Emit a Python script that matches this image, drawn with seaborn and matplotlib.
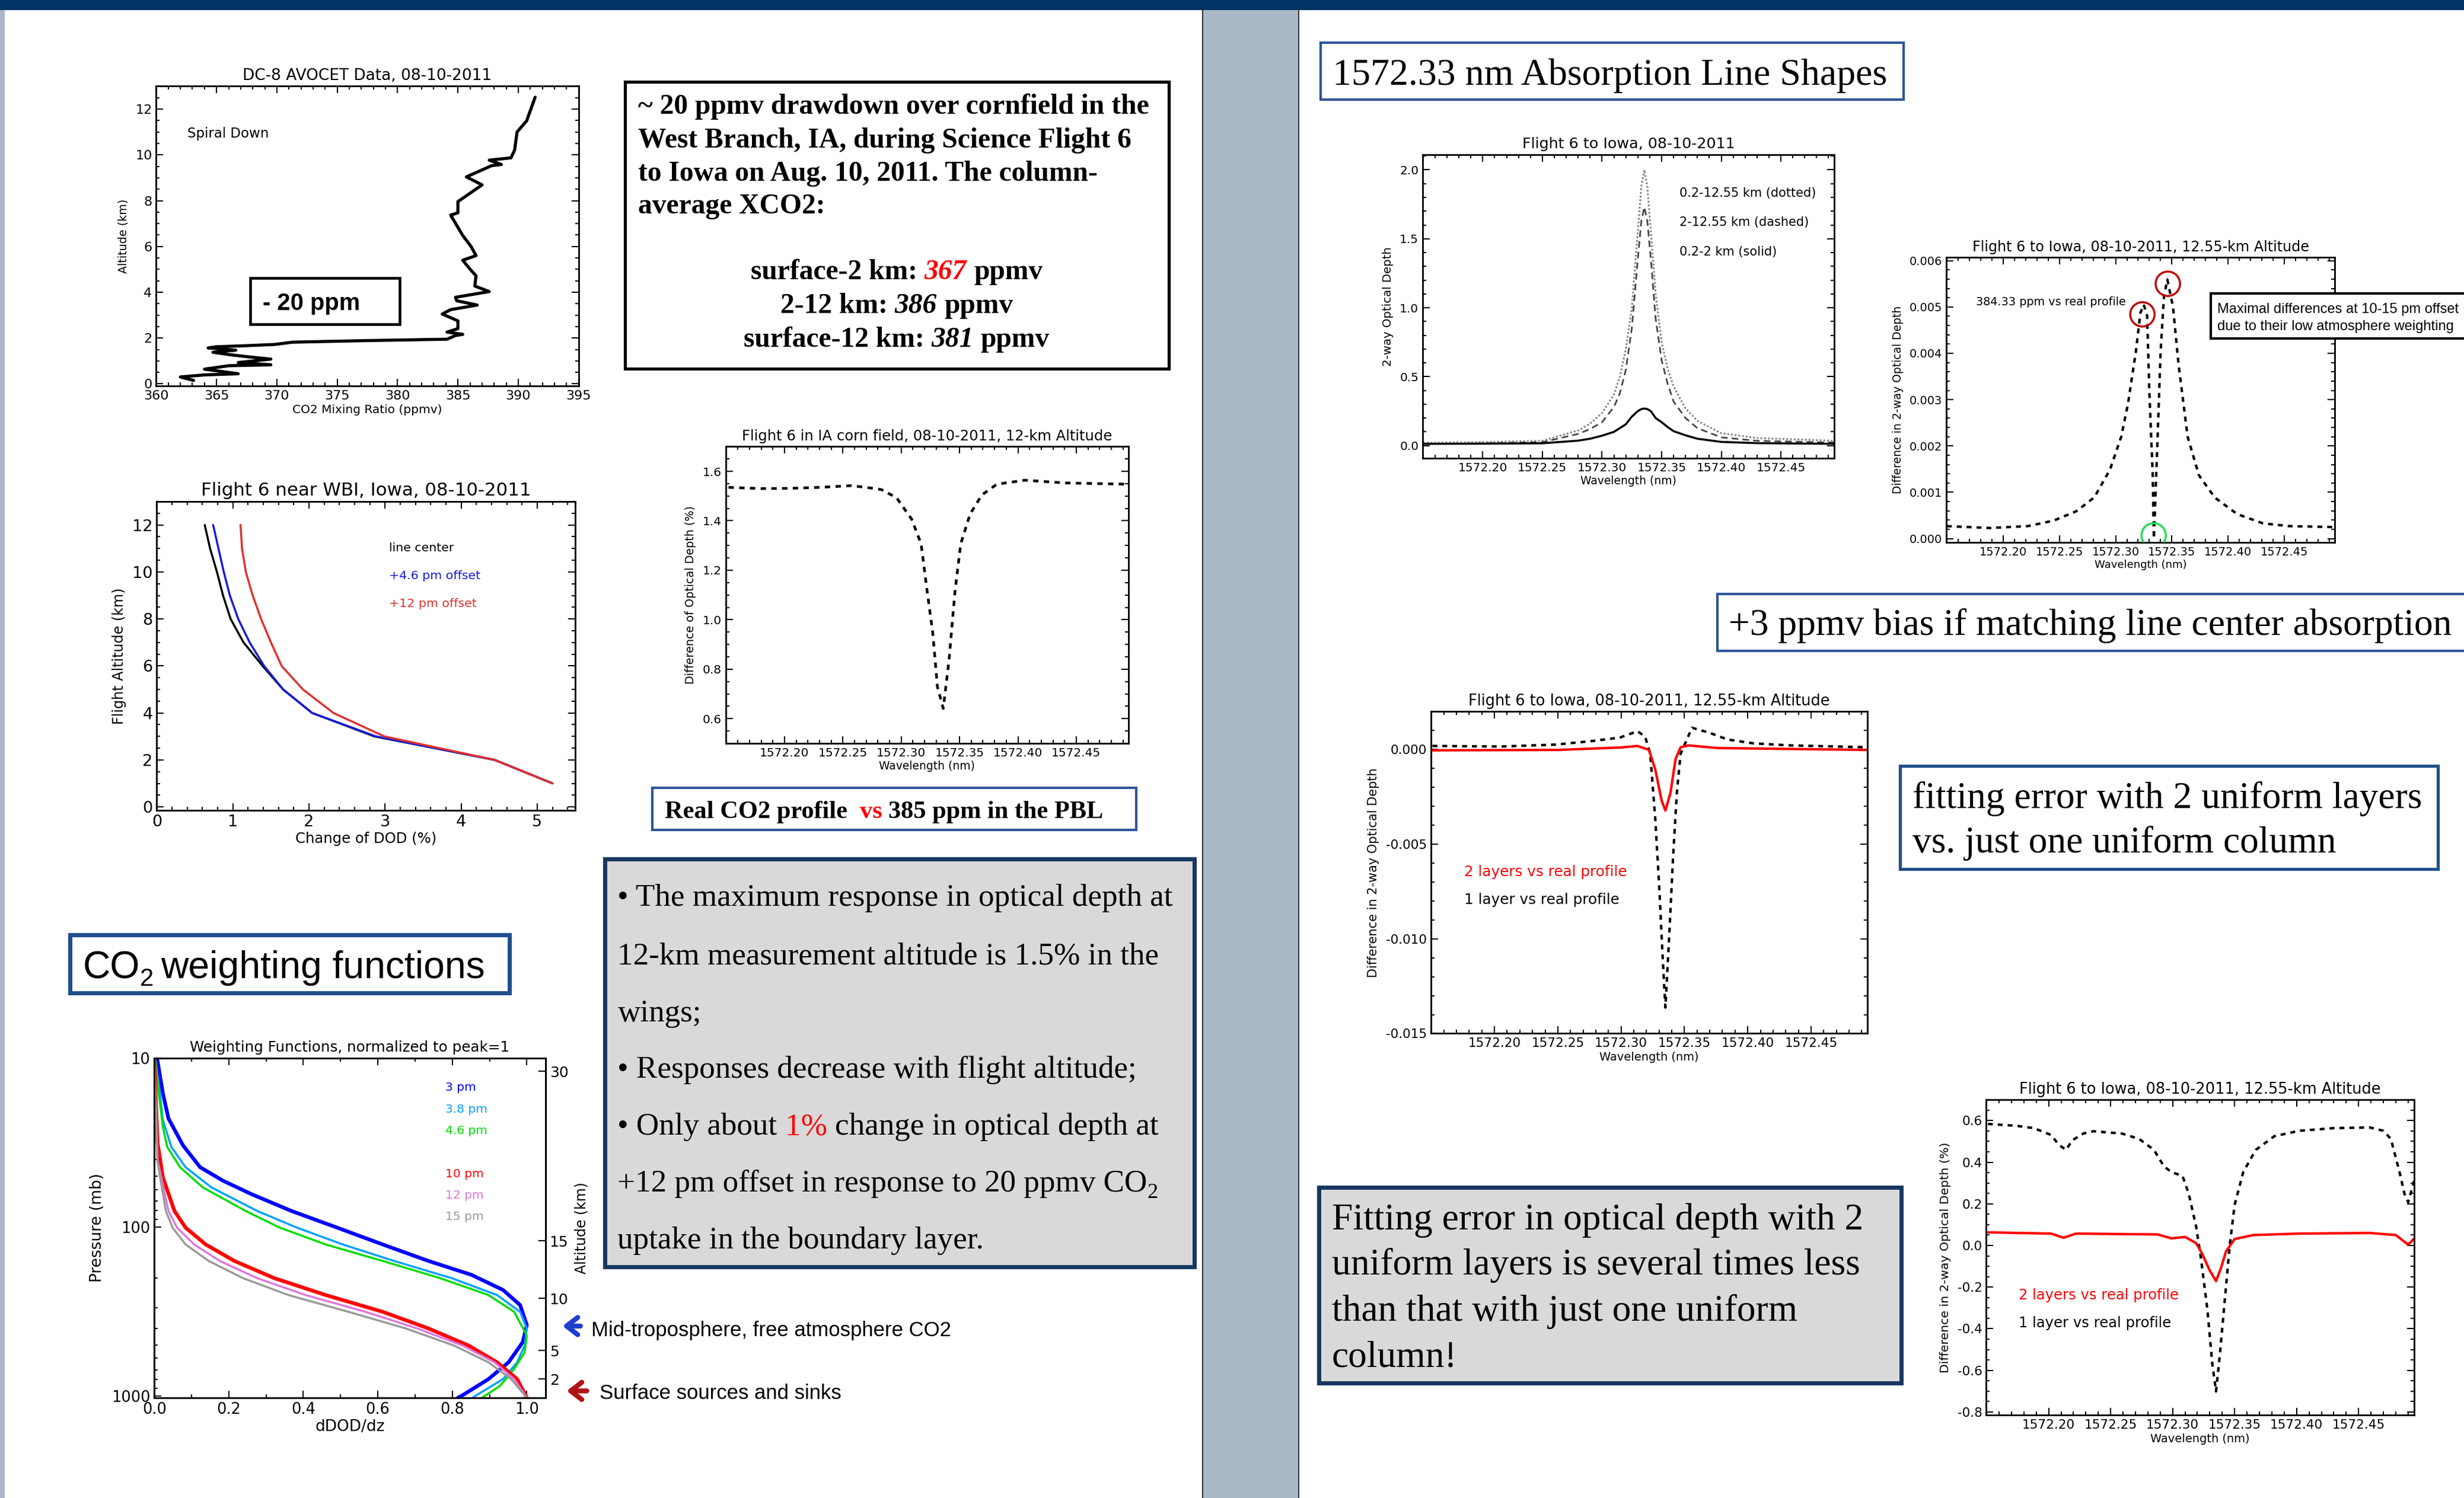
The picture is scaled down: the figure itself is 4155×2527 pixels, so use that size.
import matplotlib
matplotlib.use("Agg")
import matplotlib.pyplot as plt
import seaborn as sns
from matplotlib.patches import Rectangle, FancyArrowPatch
from matplotlib.lines import Line2D
from matplotlib.ticker import (MultipleLocator, FixedLocator, FixedFormatter,
                               FormatStrFormatter, NullFormatter, NullLocator, LogLocator)

# DC-8 AVOCET spiral: CO2 (ppmv) against altitude (km)
avocet_co2 = [363.1, 362.0, 364.0, 366.8, 364.7, 364.0, 366.0, 369.5, 366.8, 369.5,
              367.6, 366.0, 364.7, 366.6, 364.3, 365.0, 367.6, 369.8, 371.3, 377.5,
              384.1, 384.8, 385.4, 384.1, 385.0, 385.0, 383.7, 384.4, 386.6, 384.9,
              384.8, 387.6, 386.4, 386.5, 386.0, 385.4, 386.5, 386.1, 385.4, 384.4,
              385.0, 385.0, 385.8, 387.0, 385.7, 387.8, 388.6, 387.6, 389.4, 389.7,
              389.9, 390.7, 391.1, 391.4]
avocet_alt = [0.15, 0.30, 0.39, 0.44, 0.59, 0.64, 0.79, 0.83, 0.93, 1.08,
              1.18, 1.28, 1.38, 1.47, 1.57, 1.62, 1.67, 1.72, 1.82, 1.89,
              1.95, 2.11, 2.16, 2.26, 2.41, 2.75, 3.05, 3.24, 3.44, 3.63,
              3.78, 4.03, 4.27, 4.72, 5.01, 5.40, 5.60, 5.99, 6.48, 7.37,
              7.47, 7.96, 8.25, 8.69, 9.04, 9.53, 9.58, 9.77, 9.87, 10.22,
              11.0, 11.49, 12.08, 12.52]

# change of DOD (%) against flight altitude near WBI
wbi_alt = [12, 11, 10, 9, 8, 7, 6, 5, 4, 3, 2, 1]
wbi_center = [0.63, 0.70, 0.79, 0.87, 0.97, 1.14, 1.39, 1.66, 2.04, 2.86, 4.44, 5.2]
wbi_off46 = [0.74, 0.81, 0.88, 0.96, 1.07, 1.22, 1.41, 1.66, 2.04, 2.88, 4.44, 5.2]
wbi_off12 = [1.10, 1.12, 1.17, 1.26, 1.37, 1.50, 1.64, 1.92, 2.32, 2.99, 4.44, 5.2]

# difference of optical depth (%) over the corn field, 12 km
corn_wl = [1572.152, 1572.18, 1572.204, 1572.23, 1572.257, 1572.27, 1572.283, 1572.296,
           1572.309, 1572.317, 1572.322, 1572.327, 1572.331, 1572.336, 1572.341, 1572.346,
           1572.351, 1572.359, 1572.369, 1572.382, 1572.406, 1572.44, 1572.492]
corn_dod = [1.535, 1.530, 1.531, 1.535, 1.542, 1.535, 1.526, 1.493, 1.406, 1.307, 1.122,
            0.947, 0.729, 0.641, 0.838, 1.111, 1.307, 1.427, 1.504, 1.548, 1.564, 1.553, 1.548]

# weighting functions (normalized) against pressure (mb)
wf_p_3 = [10.2, 16.2, 22.8, 32.9, 44.3, 53.2, 64.0, 80.4, 101, 127, 159, 192, 236, 290, 381,
          481, 633, 796, 1000, 1025]
wf_3 = [0.008, 0.023, 0.038, 0.077, 0.123, 0.184, 0.261, 0.368, 0.491, 0.613, 0.736, 0.851,
        0.936, 0.982, 1.0, 0.989, 0.951, 0.897, 0.825, 0.815]
wf_p_38 = [10.2, 16.2, 23.3, 33.7, 44.3, 58.3, 80.4, 101, 127, 159, 201, 253, 318, 399, 504,
           633, 796, 1000, 1025]
wf_38 = [0.003, 0.015, 0.023, 0.046, 0.084, 0.153, 0.276, 0.383, 0.506, 0.644, 0.798, 0.92,
         0.982, 1.0, 0.994, 0.974, 0.936, 0.862, 0.855]
wf_p_46 = [10.2, 16.2, 25.6, 33.7, 44.3, 58.3, 80.4, 101, 127, 159, 201, 253, 318, 439, 553,
           694, 873, 1025]
wf_46 = [0.003, 0.012, 0.023, 0.035, 0.069, 0.13, 0.245, 0.337, 0.46, 0.613, 0.767, 0.897,
         0.966, 1.0, 0.994, 0.966, 0.928, 0.88]
wf_p_10 = [10.2, 20.3, 32.1, 50.9, 80.4, 101, 127, 159, 201, 253, 318, 399, 504, 633, 796, 1025]
wf_10 = [0.0, 0.005, 0.009, 0.023, 0.054, 0.084, 0.138, 0.215, 0.322, 0.46, 0.613, 0.736,
         0.844, 0.92, 0.974, 1.0]
wf_p_12 = [10.2, 40.4, 80.4, 101, 127, 159, 201, 253, 318, 399, 504, 633, 796, 1025]
wf_12 = [0.0, 0.009, 0.038, 0.061, 0.107, 0.176, 0.276, 0.406, 0.567, 0.706, 0.828, 0.913,
         0.966, 1.0]
wf_p_15 = [10.2, 40.4, 80.4, 101, 127, 159, 201, 253, 318, 399, 504, 633, 796, 1025]
wf_15 = [0.0, 0.008, 0.031, 0.049, 0.084, 0.146, 0.238, 0.36, 0.521, 0.675, 0.805, 0.897,
         0.958, 1.0]
wf_labels = ['3 pm', '3.8 pm', '4.6 pm', '10 pm', '12 pm', '15 pm']
wf_label_p = [15.0, 20.1, 26.9, 48.6, 65.2, 87.3]
alt_tick_p = [795, 540, 265, 121, 12]
alt_tick_lab = ['2', '5', '10', '15', '30']

# 2-way optical depth line shapes
shape_wl = [1572.15, 1572.20, 1572.25, 1572.28, 1572.29, 1572.30, 1572.31, 1572.315, 1572.32,
            1572.325, 1572.33, 1572.333, 1572.3355, 1572.338, 1572.341, 1572.345, 1572.35,
            1572.355, 1572.36, 1572.37, 1572.38, 1572.40, 1572.43, 1572.495]
shape_full = [0.02, 0.025, 0.035, 0.11, 0.16, 0.236, 0.37, 0.5, 0.7, 1.0, 1.55, 1.88, 2.0, 1.88,
              1.55, 1.1, 0.75, 0.56, 0.43, 0.27, 0.18, 0.09, 0.055, 0.035]
shape_upper = [0.012, 0.017, 0.025, 0.085, 0.12, 0.17, 0.28, 0.38, 0.55, 0.85, 1.35, 1.63, 1.73,
               1.63, 1.35, 0.92, 0.62, 0.45, 0.32, 0.2, 0.127, 0.06, 0.035, 0.022]
shape_pbl = [0.013, 0.014, 0.017, 0.036, 0.05, 0.072, 0.1, 0.127, 0.155, 0.21, 0.25, 0.265, 0.269,
             0.265, 0.25, 0.2, 0.17, 0.135, 0.105, 0.075, 0.05, 0.027, 0.018, 0.013]

# 384.33 ppm column vs real profile
bias_wl = [1572.15, 1572.188, 1572.222, 1572.245, 1572.265, 1572.281, 1572.295, 1572.305,
           1572.311, 1572.318, 1572.322, 1572.325, 1572.328, 1572.330, 1572.333, 1572.334,
           1572.337, 1572.340, 1572.343, 1572.346, 1572.351, 1572.356, 1572.364, 1572.374,
           1572.388, 1572.408, 1572.431, 1572.454, 1572.494]
bias_diff = [0.00027, 0.00023, 0.00027, 0.00039, 0.00059, 0.00089, 0.00149, 0.0022, 0.00291,
             0.00404, 0.00487, 0.00505, 0.00481, 0.00315, 0.00137, 0.0, 0.00196, 0.00404,
             0.00523, 0.00559, 0.005, 0.00374, 0.0022, 0.00137, 0.00089, 0.00053, 0.00033,
             0.00027, 0.00025]
circle_wl = [1572.3238, 1572.3464, 1572.3338]
circle_val = [0.00484, 0.0055, 0.00007]

# fitting errors, 2-way optical depth
fit1_wl = [1572.151, 1572.205, 1572.248, 1572.276, 1572.299, 1572.313, 1572.319, 1572.323,
           1572.327, 1572.330, 1572.333, 1572.335, 1572.338, 1572.341, 1572.344, 1572.347,
           1572.356, 1572.370, 1572.384, 1572.404, 1572.433, 1572.495]
fit1_err = [0.00018, 0.00015, 0.00025, 0.00043, 0.00062, 0.00096, 0.00066, -0.00023, -0.00367,
            -0.0071, -0.0112, -0.01363, -0.00985, -0.00573, -0.00229, -0.00023, 0.00114,
            0.00087, 0.00052, 0.00032, 0.00021, 0.00011]
fit2_wl = [1572.151, 1572.25, 1572.30, 1572.313, 1572.322, 1572.327, 1572.332, 1572.335,
           1572.339, 1572.343, 1572.347, 1572.353, 1572.376, 1572.495]
fit2_err = [-0.00005, -0.00003, 0.0001, 0.00018, -0.00003, -0.00106, -0.0027, -0.00323,
            -0.00229, -0.00051, 0.00011, 0.00021, 0.00007, -0.00003]

# fitting errors in percent
pct1_wl = [1572.151, 1572.174, 1572.188, 1572.202, 1572.208, 1572.214, 1572.219, 1572.228,
           1572.236, 1572.259, 1572.273, 1572.285, 1572.293, 1572.299, 1572.308, 1572.313,
           1572.319, 1572.323, 1572.328, 1572.332, 1572.335, 1572.338, 1572.342, 1572.346,
           1572.350, 1572.357, 1572.367, 1572.382, 1572.402, 1572.430, 1572.459, 1572.470,
           1572.476, 1572.483, 1572.487, 1572.490, 1572.495]
pct1_err = [0.584, 0.575, 0.564, 0.531, 0.485, 0.459, 0.505, 0.538, 0.549, 0.538, 0.512, 0.459,
            0.38, 0.353, 0.334, 0.248, 0.09, -0.068, -0.306, -0.569, -0.701, -0.53, -0.266,
            -0.002, 0.195, 0.353, 0.459, 0.525, 0.551, 0.564, 0.567, 0.551, 0.512, 0.353,
            0.248, 0.208, 0.314]
pct2_wl = [1572.151, 1572.202, 1572.212, 1572.222, 1572.288, 1572.299, 1572.310, 1572.319,
           1572.324, 1572.330, 1572.335, 1572.339, 1572.343, 1572.350, 1572.365, 1572.402,
           1572.459, 1572.480, 1572.490, 1572.495]
pct2_err = [0.063, 0.057, 0.037, 0.057, 0.053, 0.034, 0.041, 0.011, -0.042, -0.121, -0.171,
            -0.108, -0.029, 0.031, 0.05, 0.057, 0.06, 0.05, 0.004, 0.034]

wl_ticks = [1572.20, 1572.25, 1572.30, 1572.35, 1572.40, 1572.45]
WL_LIM = (1572.1497, 1572.4947)

# ---------------- style ----------------
sns.set_style("ticks", rc={"axes.edgecolor": "black", "xtick.color": "black",
                           "ytick.color": "black", "text.color": "black",
                           "axes.labelcolor": "black"})
plt.rcParams["font.family"] = ["DejaVu Sans"]
plt.rcParams["axes.linewidth"] = 0.8

W, H = 1568, 954   # layout units: pixels of the poster as shown
fig = plt.figure(figsize=(16.62, 10.108), dpi=250)
renderer = fig.canvas.get_renderer()

SERIF = "Liberation Serif"
NARROW = ["Liberation Sans Narrow", "Liberation Sans"]


def frect(l, t, r, b, fc="white", ec="none", lw=1.0, z=1):
    fig.add_artist(Rectangle((l / W, 1 - b / H), (r - l) / W, (b - t) / H,
                             transform=fig.transFigure, fc=fc, ec=ec, lw=lw, zorder=z))


def new_ax(l, t, r, b):
    return fig.add_axes([l / W, 1 - b / H, (r - l) / W, (b - t) / H])


def width(s, **kw):
    t = fig.text(0, 0, s, **kw)
    w = t.get_window_extent(renderer).width
    t.remove()
    return w / fig.bbox.width


def rich(x, y, parts, ha="left", **kw):
    ws = []
    for s, st in parts:
        k = {**kw, **{a: v for a, v in st.items() if a != "dy"}}
        ws.append(width(s + "|", **k) - width("|", **k))
    x0 = x / W - (sum(ws) / 2 if ha == "center" else 0)
    for (s, st), w in zip(parts, ws):
        k = {**kw, **{a: v for a, v in st.items() if a != "dy"}}
        fig.text(x0, 1 - (y + st.get("dy", 0)) / H, s, va="baseline", zorder=6, **k)
        x0 += w


def ftext(x, y, s, **kw):
    fig.text(x / W, 1 - y / H, s, va="baseline", zorder=6, **kw)


def loc(v):
    if isinstance(v, (list, tuple)):
        return FixedLocator(v)
    return MultipleLocator(v)


def idl(ax, xlim, ylim, xmaj, xmin, ymaj, ymin, fs):
    ax.set_xlim(*xlim)
    ax.set_ylim(*ylim)
    ax.xaxis.set_major_locator(loc(xmaj))
    ax.xaxis.set_minor_locator(loc(xmin))
    if ymaj is not None:
        ax.yaxis.set_major_locator(loc(ymaj))
        ax.yaxis.set_minor_locator(loc(ymin))
    ax.tick_params(which="both", direction="in", top=True, right=True,
                   labelsize=fs, width=0.6, pad=2)
    ax.tick_params(which="major", length=3.5)
    ax.tick_params(which="minor", length=1.8)


def wl_axis(ax, ylim, ymaj, ymin, fs, yfmt):
    idl(ax, WL_LIM, ylim, wl_ticks, 0.01, ymaj, ymin, fs)
    ax.xaxis.set_major_formatter(FormatStrFormatter("%.2f"))
    ax.yaxis.set_major_formatter(FormatStrFormatter(yfmt))


# ---------------- background ----------------
frect(0, 0, W, 6.3, fc="#003366", z=1)
frect(0, 6.3, 3, H, fc="#aab8c8", z=1)
frect(765.5, 6.3, 826.5, H, fc="#aab8c8", z=1)
for xl in (765.5, 826.5):
    fig.add_artist(Line2D([xl / W, xl / W], [0, 1 - 6.3 / H], transform=fig.transFigure,
                          color="#333333", lw=0.6, zorder=2))

# ---------------- DC-8 AVOCET profile ----------------
ax = new_ax(99.4, 54.9, 368.2, 245.9)
sns.lineplot(x=avocet_co2, y=avocet_alt, sort=False, estimator=None, color="black",
             linewidth=1.5, ax=ax)
idl(ax, (360, 395), (-0.1, 13), 5, 1, 2, 0.5, 6.4)
ax.set_title("DC-8 AVOCET Data, 08-10-2011", fontsize=7.6, pad=3)
ax.set_xlabel("CO2 Mixing Ratio (ppmv)", fontsize=5.8, labelpad=1)
ax.set_ylabel("Altitude (km)", fontsize=5.5, labelpad=3)
ax.text(362.58, 10.92, "Spiral Down", fontsize=6.6, va="center")
frect(159.3, 177.1, 254.5, 206.5, fc="white", ec="black", lw=1.3, z=2)
ftext(167.2, 197.3, "- 20 ppm", family="Liberation Sans", weight="bold", fontsize=11.5)

# ---------------- change of DOD vs altitude ----------------
ax = new_ax(99.8, 319.4, 366.1, 516.1)
sns.lineplot(x=wbi_center, y=wbi_alt, sort=False, estimator=None, color="black",
             linewidth=1.0, ax=ax)
sns.lineplot(x=wbi_off46, y=wbi_alt, sort=False, estimator=None, color="#1a1adc",
             linewidth=1.0, ax=ax)
sns.lineplot(x=wbi_off12, y=wbi_alt, sort=False, estimator=None, color="#e03030",
             linewidth=1.0, ax=ax)
idl(ax, (0, 5.5), (-0.15, 13), 1, 0.2, 2, 0.5, 7.8)
ax.set_title("Flight 6 near WBI, Iowa, 08-10-2011", fontsize=8.9, pad=3)
ax.set_xlabel("Change of DOD (%)", fontsize=7.0, labelpad=1)
ax.set_ylabel("Flight Altitude (km)", fontsize=6.9, labelpad=3)
ax.text(3.05, 11.02, "line center", fontsize=5.9, va="center", color="black")
ax.text(3.05, 9.84, "+4.6 pm offset", fontsize=5.9, va="center", color="#1a1adc")
ax.text(3.05, 8.66, "+12 pm offset", fontsize=5.9, va="center", color="#e03030")

# ---------------- corn field difference ----------------
ax = new_ax(461.9, 284.4, 718.1, 473.4)
sns.lineplot(x=corn_wl, y=corn_dod, sort=False, estimator=None, color="black",
             linewidth=1.3, linestyle=(0, (2, 2)), ax=ax)
wl_axis(ax, (0.5, 1.7), 0.2, 0.05, 5.8, "%.1f")
ax.set_title("Flight 6 in IA corn field, 08-10-2011, 12-km Altitude", fontsize=7.0, pad=3)
ax.set_xlabel("Wavelength (nm)", fontsize=5.4, labelpad=1)
ax.set_ylabel("Difference of Optical Depth (%)", fontsize=5.5, labelpad=3)

# ---------------- weighting functions ----------------
ax = new_ax(98.2, 673.8, 347.1, 890.1)
wf_sets = [(wf_3, wf_p_3, "#0000ff", 1.8), (wf_38, wf_p_38, "#00a0ff", 1.0),
           (wf_46, wf_p_46, "#00dd00", 1.0), (wf_10, wf_p_10, "#ff0000", 1.8),
           (wf_12, wf_p_12, "#dd77dd", 1.0), (wf_15, wf_p_15, "#999999", 1.0)]
for xs, ps, col, lw in wf_sets:
    sns.lineplot(x=xs, y=ps, sort=False, estimator=None, color=col, linewidth=lw, ax=ax)
ax.set_yscale("log")
idl(ax, (0, 1.05), (1025, 10), 0.2, 0.1, None, None, 7.4)
ax.xaxis.set_major_formatter(FormatStrFormatter("%.1f"))
ax.yaxis.set_major_locator(FixedLocator([10, 100, 1000]))
ax.yaxis.set_major_formatter(FixedFormatter(["10", "100", "1000"]))
ax.yaxis.set_minor_locator(LogLocator(base=10, subs=range(2, 10), numticks=20))
ax.yaxis.set_minor_formatter(NullFormatter())
ax.tick_params(which="both", right=False)
ax.set_title("Weighting Functions, normalized to peak=1", fontsize=7.1, pad=3)
ax.set_xlabel("dDOD/dz", fontsize=7.6, labelpad=1)
ax.set_ylabel("Pressure (mb)", fontsize=7.6, labelpad=3)
for lab, p, (_, _, col, _) in zip(wf_labels, wf_label_p, wf_sets):
    ax.text(0.782, p, lab, fontsize=5.8, va="center", color=col)
ax2 = ax.twinx()
ax2.set_yscale("log")
ax2.set_ylim(1025, 10)
ax2.yaxis.set_major_locator(FixedLocator(alt_tick_p))
ax2.yaxis.set_major_formatter(FixedFormatter(alt_tick_lab))
ax2.yaxis.set_minor_locator(NullLocator())
ax2.tick_params(which="major", direction="in", length=3.5, width=0.6, labelsize=7.2, pad=2)
ax2.set_ylabel("Altitude (km)", fontsize=6.8, labelpad=3)

# ---------------- line shapes ----------------
ax = new_ax(905.4, 98.5, 1167.2, 291.7)
sns.lineplot(x=shape_wl, y=shape_full, sort=False, estimator=None, color="#888888",
             linewidth=0.9, linestyle=(0, (1, 1)), ax=ax)
sns.lineplot(x=shape_wl, y=shape_upper, sort=False, estimator=None, color="#444444",
             linewidth=0.8, linestyle=(0, (4, 2.5)), ax=ax)
sns.lineplot(x=shape_wl, y=shape_pbl, sort=False, estimator=None, color="black",
             linewidth=1.0, ax=ax)
wl_axis(ax, (-0.09, 2.11), 0.5, 0.1, 5.8, "%.1f")
ax.set_title("Flight 6 to Iowa, 08-10-2011", fontsize=7.3, pad=3)
ax.set_xlabel("Wavelength (nm)", fontsize=5.4, labelpad=1)
ax.set_ylabel("2-way Optical Depth", fontsize=5.7, labelpad=3)
ax.text(1572.365, 1.83, "0.2-12.55 km (dotted)", fontsize=6.0, va="center")
ax.text(1572.365, 1.618, "2-12.55 km (dashed)", fontsize=6.0, va="center")
ax.text(1572.365, 1.405, "0.2-2 km (solid)", fontsize=6.0, va="center")

# ---------------- 384.33 ppm vs real profile ----------------
ax = new_ax(1238.7, 163.9, 1485.7, 345.4)
sns.lineplot(x=bias_wl, y=bias_diff, sort=False, estimator=None, color="black",
             linewidth=1.2, linestyle=(0, (2, 2)), ax=ax)
ax.scatter(circle_wl, circle_val, s=140, facecolors="none",
           edgecolors=["#c00000", "#c00000", "#22dd55"], linewidths=1.0, zorder=5)
wl_axis(ax, (-0.00008, 0.00607), 0.001, 0.0002, 5.6, "%.3f")
ax.set_title("Flight 6 to Iowa, 08-10-2011, 12.55-km Altitude", fontsize=6.9, pad=3)
ax.set_xlabel("Wavelength (nm)", fontsize=5.2, labelpad=1)
ax.set_ylabel("Difference in 2-way Optical Depth", fontsize=5.4, labelpad=3)
ax.text(1572.176, 0.0051, "384.33 ppm vs real profile", fontsize=5.5, va="center")
frect(1407, 187, 1580, 215.4, fc="white", ec="black", lw=1.2, z=4)
ftext(1411, 199.3, "Maximal differences at 10-15 pm offset", family=NARROW, fontsize=6.8)
ftext(1411, 210.2, "due to their low atmosphere weighting", family=NARROW, fontsize=6.8)

# ---------------- fitting error, absolute ----------------
ax = new_ax(910.5, 453.1, 1188.5, 658.2)
sns.lineplot(x=fit1_wl, y=fit1_err, sort=False, estimator=None, color="black",
             linewidth=1.2, linestyle=(0, (2, 2)), ax=ax)
sns.lineplot(x=fit2_wl, y=fit2_err, sort=False, estimator=None, color="#ff0000",
             linewidth=1.2, ax=ax)
wl_axis(ax, (-0.015, 0.002), 0.005, 0.001, 6.2, "%.3f")
ax.set_title("Flight 6 to Iowa, 08-10-2011, 12.55-km Altitude", fontsize=7.4, pad=3)
ax.set_xlabel("Wavelength (nm)", fontsize=5.6, labelpad=1)
ax.set_ylabel("Difference in 2-way Optical Depth", fontsize=6.0, labelpad=3)
ax.text(1572.176, -0.00648, "2 layers vs real profile", fontsize=7.1, va="center", color="#ff0000")
ax.text(1572.176, -0.00793, "1 layer vs real profile", fontsize=7.1, va="center")

# ---------------- fitting error, percent ----------------
ax = new_ax(1264, 700.4, 1536.2, 901.2)
sns.lineplot(x=pct1_wl, y=pct1_err, sort=False, estimator=None, color="black",
             linewidth=1.2, linestyle=(0, (2, 2)), ax=ax)
sns.lineplot(x=pct2_wl, y=pct2_err, sort=False, estimator=None, color="#ff0000",
             linewidth=1.2, ax=ax)
wl_axis(ax, (-0.815, 0.70), 0.2, 0.05, 6.2, "%.1f")
ax.set_title("Flight 6 to Iowa, 08-10-2011, 12.55-km Altitude", fontsize=7.4, pad=3)
ax.set_xlabel("Wavelength (nm)", fontsize=5.6, labelpad=1)
ax.set_ylabel("Difference in 2-way Optical Depth (%)", fontsize=5.9, labelpad=3)
ax.text(1572.176, -0.24, "2 layers vs real profile", fontsize=7.0, va="center", color="#ff0000")
ax.text(1572.176, -0.372, "1 layer vs real profile", fontsize=7.0, va="center")

# ---------------- text boxes, left half ----------------
frect(397.8, 52.2, 743.8, 235.0, ec="black", lw=1.5, z=2)
bold = dict(family=SERIF, weight="bold", fontsize=13.7)
ftext(405.9, 72.5, "~ 20 ppmv drawdown over cornfield in the", **bold)
ftext(405.9, 93.9, "West Branch, IA, during Science Flight 6", **bold)
ftext(405.9, 115.1, "to Iowa on Aug. 10, 2011. The column-", **bold)
ftext(405.9, 135.9, "average XCO2:", **bold)
rich(570.6, 177.8, [("surface-2 km: ", {}), ("367 ", {"style": "italic", "color": "red"}),
                    ("ppmv", {})], ha="center", **bold)
rich(570.6, 199.2, [("2-12 km: ", {}), ("386 ", {"style": "italic"}), ("ppmv", {})],
     ha="center", **bold)
rich(570.6, 220.7, [("surface-12 km: ", {}), ("381 ", {"style": "italic"}), ("ppmv", {})],
     ha="center", **bold)

frect(415, 501.9, 723, 528.6, ec="#2f5597", lw=1.2, z=2)
rich(423, 520.8, [("Real CO2 profile  ", {}), ("vs ", {"color": "red"}),
                  ("385 ppm in the PBL", {})], family=SERIF, weight="bold", fontsize=12.2)

frect(44.4, 595.2, 324.2, 632.2, ec="#1f4e8c", lw=2.0, z=2)
rich(52.7, 623, [("CO", {}), ("2 ", {"fontsize": 12, "dy": 5}), ("weighting functions", {})],
     family="Liberation Sans", fontsize=18.5)

frect(385, 546.9, 760, 806.8, fc="#d9d9d9", ec="#17375e", lw=2.0, z=2)
reg = dict(family=SERIF, fontsize=15.3)
ftext(393, 577, "\u2022 The maximum response in optical depth at", **reg)
ftext(393, 614, "12-km measurement altitude is 1.5% in the", **reg)
ftext(393, 650.3, "wings;", **reg)
ftext(393, 686.5, "\u2022 Responses decrease with flight altitude;", **reg)
rich(393, 722.6, [("\u2022 Only about ", {}), ("1% ", {"color": "red"}),
                  ("change in optical depth at", {})], **reg)
rich(393, 758.8, [("+12 pm offset in response to 20 ppmv CO", {}),
                  ("2", {"fontsize": 10.5, "dy": 4})], **reg)
ftext(393, 795, "uptake in the boundary layer.", **reg)

fig.add_artist(FancyArrowPatch((372 / W, 1 - 844.5 / H), (355.4 / W, 1 - 844.5 / H),
                               transform=fig.transFigure, arrowstyle="->,head_length=0.45,head_width=0.35",
                               mutation_scale=12, lw=2.4, color="#1f3fd0", zorder=6))
fig.add_artist(FancyArrowPatch((376 / W, 1 - 885.8 / H), (358 / W, 1 - 885.8 / H),
                               transform=fig.transFigure, arrowstyle="->,head_length=0.45,head_width=0.35",
                               mutation_scale=12, lw=2.4, color="#b01515", zorder=6))
ftext(376.2, 851, "Mid-troposphere, free atmosphere CO2", family=NARROW, fontsize=10)
ftext(381.6, 891, "Surface sources and sinks", family=NARROW, fontsize=10)

# ---------------- text boxes, right half ----------------
frect(840.4, 27.3, 1211.4, 63.6, ec="#2f5597", lw=1.2, z=2)
ftext(848, 54, "1572.33 nm Absorption Line Shapes", family=SERIF, fontsize=18.4)

frect(1093, 378.2, 1580, 414.5, ec="#2f5597", lw=1.2, z=2)
ftext(1100, 404.5, "+3 ppmv bias if matching line center absorption", family=SERIF, fontsize=18.3)

frect(1209.1, 487.7, 1551.3, 553.6, ec="#1f4e8c", lw=1.5, z=2)
ftext(1217, 514.6, "fitting error with 2 uniform layers", family=SERIF, fontsize=18.3)
ftext(1217, 543, "vs. just one uniform column", family=SERIF, fontsize=18.3)

frect(839.4, 756, 1210, 880.8, fc="#d9d9d9", ec="#17375e", lw=2.0, z=2)
for yy, line in zip([783, 811.6, 841.2, 870.3],
                    ["Fitting error in optical depth with 2", "uniform layers is several times less",
                     "than that with just one uniform", "column!"]):
    ftext(847.4, yy, line, family=SERIF, fontsize=18.3)

fig.savefig("out.png", dpi=250, facecolor="white")
